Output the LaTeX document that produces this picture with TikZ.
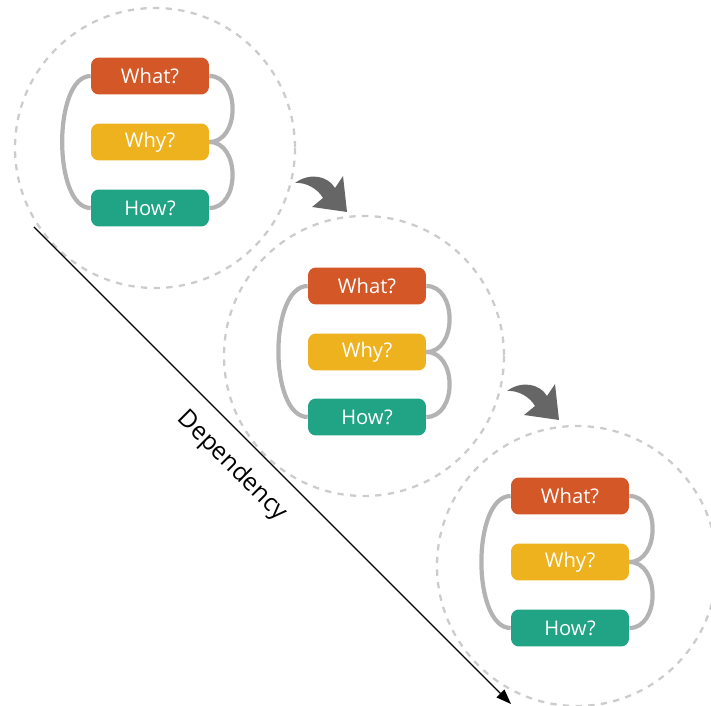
\documentclass[tikz,border=0pt]{standalone}
\usepackage{fontspec}
\setmainfont{Open Sans}
\usetikzlibrary{arrows.meta}
\definecolor{whatred}{HTML}{D45727}
\definecolor{whyyellow}{HTML}{EDB21E}
\definecolor{howgreen}{HTML}{21A385}
\definecolor{linkgray}{HTML}{B3B3B3}
\definecolor{ringgray}{HTML}{CCCCCC}
\definecolor{turngray}{HTML}{666666}
\tikzset{
	qbox/.style={rounded corners=4.5pt, minimum width=2.36cm, minimum height=0.74cm, inner sep=0pt, text=white, font=\fontsize{11.5}{13}\selectfont},
	link/.style={line width=2.4pt, color=linkgray},
	ring/.style={line width=1.3pt, color=ringgray, dash pattern=on 3.6pt off 3.6pt}
}
\def\turnarrow(#1){\fill[turngray, shift={(#1)}] (295,183) .. controls (310,172) and (328,176) .. (335,188) -- (343,176) -- (347,212) -- (312,207) -- (323,198) .. controls (318,189) and (306,182) .. cycle}

\begin{document}
\begin{tikzpicture}[x=0.02cm, y=-0.02cm]
			%%%%% START %%%%%
			\useasboundingbox (0,0) rectangle (711,706);
			
			\draw[ring] (155,148) circle (140);
			\draw[ring] (364,356) circle (140);
			\draw[ring] (577,566) circle (140);
			
			\coordinate (dep-start) at (34,227);
			\coordinate (dep-end) at (511,704);
			\draw[line width=0.7pt, -{Triangle[length=0.3cm, width=0.22cm]}] (dep-start) -- (dep-end);
			\node[rotate=-45, font=\fontsize{14}{16}\selectfont] (dep) at (232,466) {Dependency};
			
			\turnarrow(0,0);
			\turnarrow(212,208);
			
			\node[qbox, fill=whatred] (what1) at (150,76) {What?};
			\node[qbox, fill=whyyellow] (why1) at (150,142) {Why?};
			\node[qbox, fill=howgreen] (how1) at (150,208) {How?};
			\draw[link] (what1.west) .. controls +(-38,0) and +(-38,0) .. (how1.west);
			\draw[link] (what1.east) .. controls +(31,0) and +(31,0) .. (why1.east);
			\draw[link] (why1.east) .. controls +(31,0) and +(31,0) .. (how1.east);
			
			\node[qbox, fill=whatred] (what2) at (367,286) {What?};
			\node[qbox, fill=whyyellow] (why2) at (367,352) {Why?};
			\node[qbox, fill=howgreen] (how2) at (367,417) {How?};
			\draw[link] (what2.west) .. controls +(-39,0) and +(-39,0) .. (how2.west);
			\draw[link] (what2.east) .. controls +(31,0) and +(31,0) .. (why2.east);
			\draw[link] (why2.east) .. controls +(31,0) and +(31,0) .. (how2.east);
			
			\node[qbox, fill=whatred] (what3) at (570,496) {What?};
			\node[qbox, fill=whyyellow] (why3) at (570,562) {Why?};
			\node[qbox, fill=howgreen] (how3) at (570,628) {How?};
			\draw[link] (what3.west) .. controls +(-39,0) and +(-39,0) .. (how3.west);
			\draw[link] (what3.east) .. controls +(31,0) and +(31,0) .. (why3.east);
			\draw[link] (why3.east) .. controls +(31,0) and +(31,0) .. (how3.east);
			
			%%%%% END %%%%%
\end{tikzpicture}
\end{document}
